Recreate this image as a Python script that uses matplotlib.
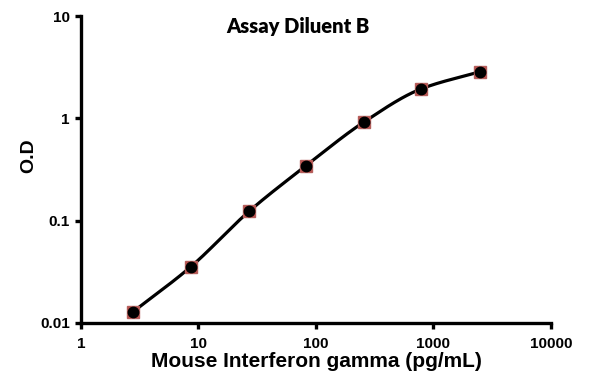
import matplotlib
matplotlib.use('Agg')
import matplotlib.pyplot as plt
import numpy as np

# standard curve readings
conc = [2.79, 8.63, 27.1, 82.2, 258, 783, 2488]
od = [0.0129, 0.0355, 0.124, 0.344, 0.927, 1.94, 2.86]

title = 'Assay Diluent B'
xlabel = 'Mouse Interferon gamma (pg/mL)'
ylabel = 'O.D'
xticks = [1, 10, 100, 1000, 10000]
xticklabels = ['1', '10', '100', '1000', '10000']
yticks = [0.01, 0.1, 1, 10]
yticklabels = ['0.01', '0.1', '1', '10']


def smooth_curve(x, y, n=200):
  # monotone cubic hermite in log-log space
  lx = np.log10(x)
  ly = np.log10(y)
  h = np.diff(lx)
  d = np.diff(ly) / h
  m = np.zeros_like(lx)
  m[0] = d[0]
  m[-1] = d[-1]
  for i in range(1, len(lx) - 1):
    if d[i - 1] * d[i] <= 0:
      m[i] = 0
    else:
      w1 = 2 * h[i] + h[i - 1]
      w2 = h[i] + 2 * h[i - 1]
      m[i] = (w1 + w2) / (w1 / d[i - 1] + w2 / d[i])
  xs = np.linspace(lx[0], lx[-1], n)
  ys = np.empty_like(xs)
  for j, xv in enumerate(xs):
    i = min(np.searchsorted(lx, xv, side='right') - 1, len(lx) - 2)
    t = (xv - lx[i]) / h[i]
    h00 = 2 * t**3 - 3 * t**2 + 1
    h10 = t**3 - 2 * t**2 + t
    h01 = -2 * t**3 + 3 * t**2
    h11 = t**3 - t**2
    ys[j] = h00 * ly[i] + h10 * h[i] * m[i] + h01 * ly[i + 1] + h11 * h[i] * m[i + 1]
  return 10**xs, 10**ys


plt.rcParams['font.family'] = ['Liberation Sans', 'DejaVu Sans']
fig = plt.figure(figsize=(5.95, 3.84), dpi=100)
ax = fig.add_axes([0.136, 0.159, 0.79, 0.799])

sx, sy = smooth_curve(conc, od)
ax.plot(sx, sy, color='black', linewidth=2.3, zorder=2)
ax.plot(conc, od, linestyle='none', marker='s', markersize=8.5,
        markerfacecolor='#c0504d', markeredgecolor='#b5605d', zorder=3)
ax.plot(conc, od, linestyle='none', marker='o', markersize=7.5,
        color='black', zorder=4)

ax.set_xscale('log')
ax.set_yscale('log')
ax.set_xlim(1, 10000)
ax.set_ylim(0.01, 10)
ax.set_xticks(xticks)
ax.set_xticklabels(xticklabels)
ax.set_yticks(yticks)
ax.set_yticklabels(yticklabels)
ax.minorticks_off()

for s in ['top', 'right']:
  ax.spines[s].set_visible(False)
for s in ['left', 'bottom']:
  ax.spines[s].set_linewidth(2.4)
ax.tick_params(axis='both', which='major', direction='out', length=4, width=2.4,
               labelsize=11)
ax.tick_params(axis='y', pad=4)
ax.tick_params(axis='x', pad=6)
for lab in ax.get_xticklabels() + ax.get_yticklabels():
  lab.set_fontweight('bold')

ax.set_xlabel(xlabel, fontsize=15, fontweight='bold', labelpad=1)
ax.set_ylabel(ylabel, fontsize=14, fontweight='bold')
ax.yaxis.set_label_coords(-0.092, 0.544)
ax.text(0.462, 0.967, title, transform=ax.transAxes, ha='center', va='center',
        fontsize=14.5, fontweight='heavy', family=['Lato', 'DejaVu Sans'])

fig.savefig('out.png', dpi=100)
